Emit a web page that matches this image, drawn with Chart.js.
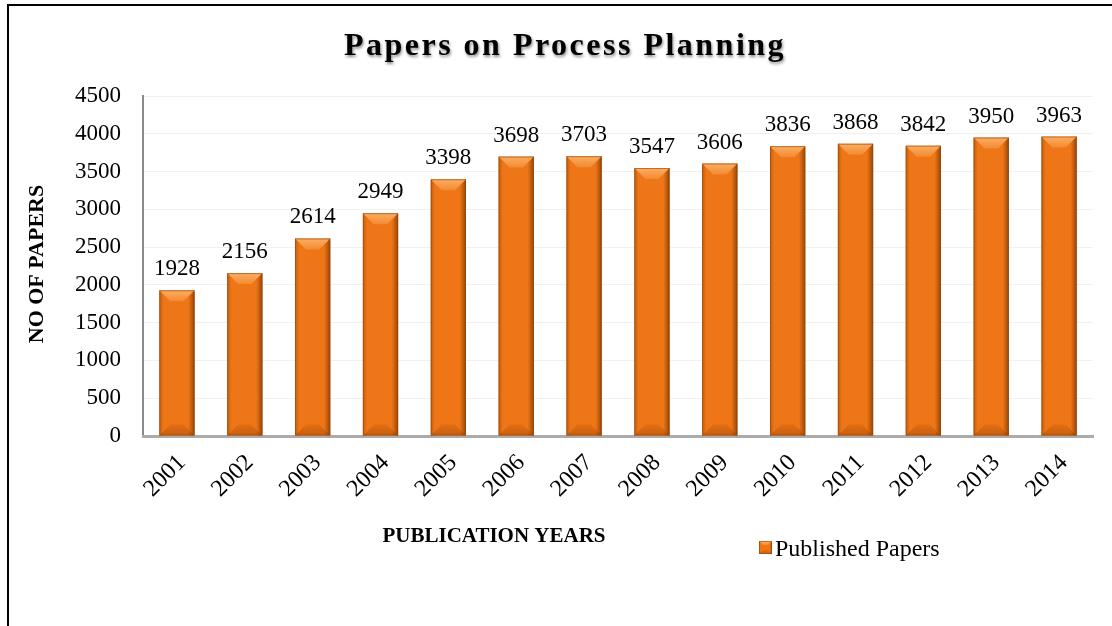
<!DOCTYPE html>
<html>
<head>
<meta charset="utf-8">
<script src="https://cdn.jsdelivr.net/npm/chart.js@4"></script>
<style>
  html, body { margin: 0; padding: 0; background: #fff; }
  #wrap { position: absolute; left: 0; top: 0; width: 1112px; height: 626px; }
  #frame { position: absolute; left: 7px; top: 4px; right: 0; bottom: 0; border-top: 2px solid #000; border-left: 2px solid #000; pointer-events: none; }
</style>
</head>
<body>
<div id="wrap"><canvas id="chart" width="1112" height="626"></canvas></div>
<div id="frame"></div>
<script>
const chartTitle = 'Papers on Process Planning';
const yTitle = 'NO OF PAPERS';
const xTitle = 'PUBLICATION YEARS';
const seriesName = 'Published Papers';
const years = ['2001', '2002', '2003', '2004', '2005', '2006', '2007', '2008', '2009', '2010', '2011', '2012', '2013', '2014'];
const papers = [1928, 2156, 2614, 2949, 3398, 3698, 3703, 3547, 3606, 3836, 3868, 3842, 3950, 3963];
const yMax = 4500;
const yStep = 500;

const serif = '"Liberation Serif", "Times New Roman", serif';
const orange = '#ef7616';

// bevelled orange block, used for the bars and the legend swatch
const bevel = (ctx, l, top, r, base, b) => {
  const w = r - l;
  ctx.fillStyle = orange;
  ctx.fillRect(l, top, w, base - top);
  const side = ctx.createLinearGradient(l, 0, r, 0);
  side.addColorStop(0, 'rgba(110,45,0,0.35)');
  side.addColorStop(0.12, 'rgba(110,45,0,0)');
  side.addColorStop(0.82, 'rgba(110,45,0,0)');
  side.addColorStop(1, 'rgba(80,35,0,0.6)');
  ctx.fillStyle = side;
  ctx.fillRect(l, top, w, base - top);

  ctx.beginPath();
  ctx.moveTo(l, top);
  ctx.lineTo(r, top);
  ctx.lineTo(r - b, top + b);
  ctx.lineTo(l + b, top + b);
  ctx.closePath();
  const hi = ctx.createLinearGradient(0, top, 0, top + b);
  hi.addColorStop(0, '#fcae62');
  hi.addColorStop(1, '#f38a32');
  ctx.fillStyle = hi;
  ctx.fill();

  ctx.beginPath();
  ctx.moveTo(l, base);
  ctx.lineTo(r, base);
  ctx.lineTo(r - b, base - b);
  ctx.lineTo(l + b, base - b);
  ctx.closePath();
  const lo = ctx.createLinearGradient(0, base - b, 0, base);
  lo.addColorStop(0, 'rgba(150,65,5,0.15)');
  lo.addColorStop(1, 'rgba(150,65,5,0.45)');
  ctx.fillStyle = lo;
  ctx.fill();

  ctx.strokeStyle = 'rgba(150,70,10,0.6)';
  ctx.lineWidth = 1;
  ctx.strokeRect(l + 0.5, top + 0.5, w - 1, base - top - 1);
};

const decor = {
  id: 'decor',
  afterDatasetsDraw(chart) {
    const ctx = chart.ctx;
    ctx.save();
    chart.getDatasetMeta(0).data.forEach((bar, i) => {
      const { x, y, base, width } = bar.getProps(['x', 'y', 'base', 'width'], true);
      bevel(ctx, x - width / 2, y, x + width / 2, base, 11);
      ctx.fillStyle = '#000';
      ctx.font = '23px ' + serif;
      ctx.textAlign = 'center';
      ctx.textBaseline = 'alphabetic';
      ctx.fillText(String(papers[i]), x, y - 15);
    });
    ctx.restore();
  },
  afterDraw(chart) {
    const ctx = chart.ctx;
    ctx.save();
    ctx.fillStyle = '#000';

    // heading with a soft drop shadow
    ctx.save();
    ctx.font = 'bold 32px ' + serif;
    ctx.letterSpacing = '2.5px';
    ctx.textAlign = 'center';
    ctx.shadowColor = 'rgba(0,0,0,0.45)';
    ctx.shadowOffsetX = 1;
    ctx.shadowOffsetY = 2;
    ctx.shadowBlur = 3;
    ctx.fillText(chartTitle, 565, 55);
    ctx.restore();

    ctx.font = 'bold 22px ' + serif;
    ctx.textAlign = 'center';
    ctx.textBaseline = 'middle';
    ctx.save();
    ctx.translate(37, 264);
    ctx.rotate(-Math.PI / 2);
    ctx.fillText(yTitle, 0, 0);
    ctx.restore();

    ctx.font = 'bold 21px ' + serif;
    ctx.fillText(xTitle, 494, 537);

    bevel(ctx, 759, 541, 772, 554, 4);
    ctx.fillStyle = '#000';
    ctx.font = '24px ' + serif;
    ctx.textAlign = 'left';
    ctx.textBaseline = 'alphabetic';
    ctx.fillText(seriesName, 775, 556);
    ctx.restore();
  }
};

new Chart(document.getElementById('chart'), {
  type: 'bar',
  data: {
    labels: years,
    datasets: [
      {
        label: seriesName,
        data: papers,
        backgroundColor: 'rgba(0,0,0,0)',
        barPercentage: 0.52,
        categoryPercentage: 1,
      },
    ],
  },
  options: {
    responsive: false,
    animation: false,
    layout: { padding: { top: 96, right: 19, left: 0, bottom: 0 } },
    plugins: {
      legend: { display: false },
      title: { display: false },
      tooltip: { enabled: false },
    },
    scales: {
      y: {
        min: 0,
        max: yMax,
        afterFit: s => (s.width = 143),
        ticks: {
          stepSize: yStep,
          callback: v => String(v),
          color: '#000',
          padding: 22,
          font: { family: serif, size: 23 },
        },
        grid: { color: '#f1f1f1', drawTicks: false },
        border: { color: '#8a8a8a', width: 2 },
      },
      x: {
        afterFit: s => (s.height = 190),
        ticks: {
          minRotation: 45,
          maxRotation: 45,
          labelOffset: 5,
          color: '#000',
          padding: 13,
          font: { family: serif, size: 24 },
        },
        grid: { display: false, drawTicks: false },
        border: { color: '#ababab', width: 3 },
      },
    },
  },
  plugins: [decor],
});
</script>
</body>
</html>
